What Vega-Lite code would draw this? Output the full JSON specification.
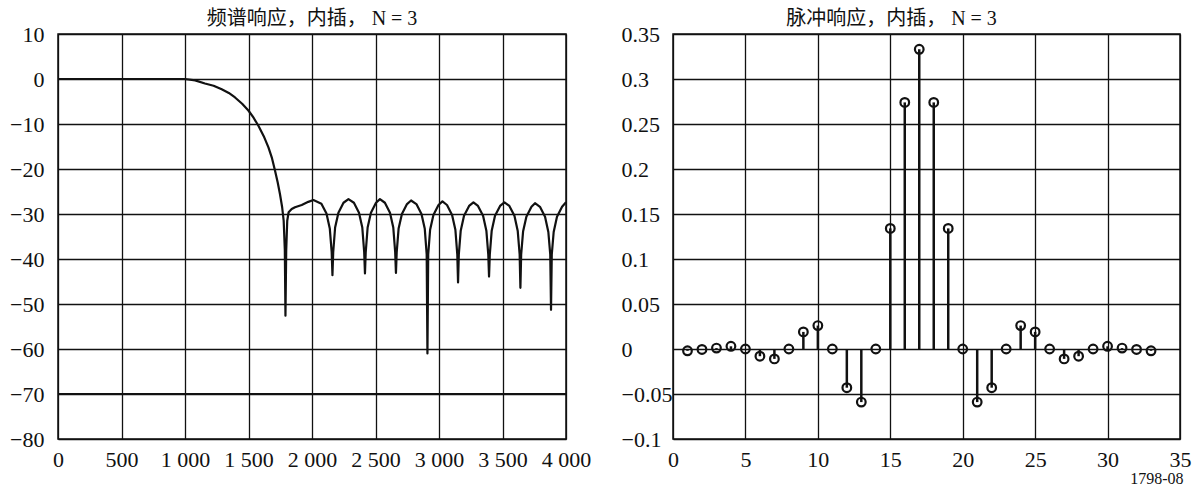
{
  "$schema": "https://vega.github.io/schema/vega-lite/v6.json",
  "padding": {"left": 8, "top": 8, "right": 10, "bottom": 8},
  "background": "white",
  "spacing": 107,
  "bounds": "flush",
  "config": {
    "font": "Liberation Serif",
    "view": {"stroke": "#111", "strokeWidth": 1.5},
    "axis": {
      "labelFont": "Liberation Serif",
      "labelFontSize": 22,
      "labelColor": "#111",
      "grid": true,
      "gridColor": "#111",
      "gridOpacity": 1,
      "gridWidth": 1.3,
      "domain": false,
      "ticks": false,
      "title": null
    },
    "title": {
      "font": "Liberation Serif, Noto Sans CJK SC",
      "fontSize": 20,
      "fontWeight": "normal",
      "color": "#111",
      "baseline": "bottom",
      "offset": -6
    }
  },
  "datasets": {
    "spectrum": [
      {"f": 0, "v": 0}, {"f": 1000, "v": 0}, {"f": 1080, "v": -0.3}, {"f": 1157, "v": -1.0}, {"f": 1225, "v": -1.5}, {"f": 1289, "v": -2.3},
      {"f": 1345, "v": -3.1}, {"f": 1394, "v": -4.1}, {"f": 1450, "v": -5.5}, {"f": 1499, "v": -7.0}, {"f": 1540, "v": -8.6}, {"f": 1578, "v": -10.4},
      {"f": 1620, "v": -12.7}, {"f": 1657, "v": -15.2}, {"f": 1685, "v": -17.6},
      {"f": 1709, "v": -20.4}, {"f": 1730, "v": -23.0}, {"f": 1748, "v": -25.6}, {"f": 1765, "v": -28.5}, {"f": 1777, "v": -31.5}, {"f": 1786, "v": -38},
      {"f": 1791, "v": -52.6}, {"f": 1797, "v": -38}, {"f": 1805, "v": -31.5}, {"f": 1816, "v": -29.6}, {"f": 1840, "v": -28.9}, {"f": 1866, "v": -28.5},
      {"f": 1919, "v": -28.0}, {"f": 1971, "v": -27.3}, {"f": 2011, "v": -26.9},
      {"f": 2074, "v": -27.7}, {"f": 2114, "v": -29.9}, {"f": 2140, "v": -33.2}, {"f": 2155, "v": -38.5},
      {"f": 2161, "v": -43.6}, {"f": 2167, "v": -38.5}, {"f": 2182, "v": -33}, {"f": 2208, "v": -29.7},
      {"f": 2248, "v": -27.5}, {"f": 2287, "v": -26.7},
      {"f": 2330, "v": -27.5}, {"f": 2370, "v": -29.7}, {"f": 2396, "v": -33}, {"f": 2411, "v": -38.5},
      {"f": 2417, "v": -43.2}, {"f": 2423, "v": -38.5}, {"f": 2438, "v": -33}, {"f": 2464, "v": -29.7},
      {"f": 2504, "v": -27.5}, {"f": 2535, "v": -26.7},
      {"f": 2574, "v": -27.5}, {"f": 2614, "v": -29.7}, {"f": 2640, "v": -33}, {"f": 2655, "v": -38.5},
      {"f": 2661, "v": -43.1}, {"f": 2667, "v": -38.5}, {"f": 2682, "v": -33.2}, {"f": 2708, "v": -30},
      {"f": 2748, "v": -27.8}, {"f": 2780, "v": -27.0},
      {"f": 2822, "v": -27.8}, {"f": 2862, "v": -30}, {"f": 2888, "v": -33.3}, {"f": 2903, "v": -39},
      {"f": 2909, "v": -61.0}, {"f": 2915, "v": -39}, {"f": 2930, "v": -33.5}, {"f": 2956, "v": -30.2},
      {"f": 2996, "v": -28}, {"f": 3027, "v": -27.2},
      {"f": 3063, "v": -28}, {"f": 3103, "v": -30.2}, {"f": 3129, "v": -33.5}, {"f": 3144, "v": -39},
      {"f": 3150, "v": -45.2}, {"f": 3156, "v": -39}, {"f": 3171, "v": -33.7}, {"f": 3197, "v": -30.4},
      {"f": 3237, "v": -28.2}, {"f": 3271, "v": -27.4},
      {"f": 3307, "v": -28.2}, {"f": 3347, "v": -30.4}, {"f": 3373, "v": -33.7}, {"f": 3388, "v": -39},
      {"f": 3394, "v": -43.9}, {"f": 3400, "v": -39}, {"f": 3415, "v": -33.7}, {"f": 3441, "v": -30.4},
      {"f": 3481, "v": -28.2}, {"f": 3515, "v": -27.4},
      {"f": 3554, "v": -28.2}, {"f": 3594, "v": -30.4}, {"f": 3620, "v": -33.8}, {"f": 3635, "v": -39},
      {"f": 3641, "v": -46.4}, {"f": 3647, "v": -39}, {"f": 3662, "v": -33.9}, {"f": 3688, "v": -30.6},
      {"f": 3728, "v": -28.4}, {"f": 3756, "v": -27.6},
      {"f": 3795, "v": -28.4}, {"f": 3835, "v": -30.6}, {"f": 3861, "v": -34}, {"f": 3876, "v": -39},
      {"f": 3882, "v": -51.3}, {"f": 3888, "v": -39}, {"f": 3903, "v": -34}, {"f": 3929, "v": -30.6},
      {"f": 3969, "v": -28.4}, {"f": 4000, "v": -27.4}
    ],
    "impulse": [
      {"n": 1, "h": -0.002}, {"n": 2, "h": -0.0005}, {"n": 3, "h": 0.001}, {"n": 4, "h": 0.003},
      {"n": 5, "h": 0}, {"n": 6, "h": -0.008}, {"n": 7, "h": -0.011}, {"n": 8, "h": 0},
      {"n": 9, "h": 0.019}, {"n": 10, "h": 0.026}, {"n": 11, "h": 0}, {"n": 12, "h": -0.043},
      {"n": 13, "h": -0.059}, {"n": 14, "h": 0}, {"n": 15, "h": 0.134}, {"n": 16, "h": 0.274},
      {"n": 17, "h": 0.333}, {"n": 18, "h": 0.274}, {"n": 19, "h": 0.134}, {"n": 20, "h": 0},
      {"n": 21, "h": -0.059}, {"n": 22, "h": -0.043}, {"n": 23, "h": 0}, {"n": 24, "h": 0.026},
      {"n": 25, "h": 0.019}, {"n": 26, "h": 0}, {"n": 27, "h": -0.011}, {"n": 28, "h": -0.008},
      {"n": 29, "h": 0}, {"n": 30, "h": 0.003}, {"n": 31, "h": 0.001}, {"n": 32, "h": -0.0005},
      {"n": 33, "h": -0.002}
    ],
    "limit": [{"v": -70}]
  },
  "hconcat": [
    {
      "width": 508,
      "height": 405,
      "title": {"text": "频谱响应，内插， N = 3"},
      "layer": [
        {
          "data": {"name": "limit"},
          "mark": {"type": "rule", "color": "#111", "strokeWidth": 2.2},
          "encoding": {
            "y": {"field": "v", "type": "quantitative", "scale": {"domain": [-80, 10], "nice": false, "zero": false}}
          }
        },
        {
          "data": {"name": "spectrum"},
          "mark": {"type": "line", "color": "#111", "strokeWidth": 2.2, "strokeJoin": "round"},
          "encoding": {
            "x": {
              "field": "f", "type": "quantitative",
              "scale": {"domain": [0, 4000], "nice": false, "zero": false},
              "axis": {"values": [0, 500, 1000, 1500, 2000, 2500, 3000, 3500, 4000], "labelPadding": 10,
                       "labelExpr": "replace(format(datum.value, ','), ',', ' ')", "labelFlush": false, "labelOverlap": false}
            },
            "y": {
              "field": "v", "type": "quantitative",
              "scale": {"domain": [-80, 10], "nice": false, "zero": false},
              "axis": {"values": [-80, -70, -60, -50, -40, -30, -20, -10, 0, 10], "labelPadding": 14, "labelFlush": false, "labelOverlap": false}
            }
          }
        }
      ]
    },
    {
      "width": 507,
      "height": 405,
      "title": {"text": "脉冲响应，内插， N = 3", "dx": -35},
      "data": {"name": "impulse"},
      "layer": [
        {
          "mark": {"type": "rule", "color": "#111", "strokeWidth": 2.5},
          "encoding": {
            "x": {
              "field": "n", "type": "quantitative",
              "scale": {"domain": [0, 35], "nice": false, "zero": false},
              "axis": {"values": [0, 5, 10, 15, 20, 25, 30, 35], "labelPadding": 10, "labelFlush": false, "labelOverlap": false,
                       "title": "1798-08", "titleFont": "Liberation Serif", "titleFontSize": 16, "titleFontWeight": "normal",
                       "titleAnchor": "end", "titleAlign": "right", "titlePadding": 0, "titleColor": "#111", "titleX": 510}
            },
            "y": {
              "field": "h", "type": "quantitative",
              "scale": {"domain": [-0.1, 0.35], "nice": false, "zero": false},
              "axis": {"values": [-0.1, -0.05, 0, 0.05, 0.1, 0.15, 0.2, 0.25, 0.3, 0.35], "format": "~g",
                       "labelAlign": "left", "labelPadding": 52, "labelFlush": false, "labelOverlap": false}
            },
            "y2": {"datum": 0}
          }
        },
        {
          "mark": {"type": "point", "shape": "circle", "filled": false, "color": "#111", "strokeWidth": 2.2, "size": 75, "opacity": 1},
          "encoding": {
            "x": {"field": "n", "type": "quantitative"},
            "y": {"field": "h", "type": "quantitative"}
          }
        }
      ]
    }
  ]
}
